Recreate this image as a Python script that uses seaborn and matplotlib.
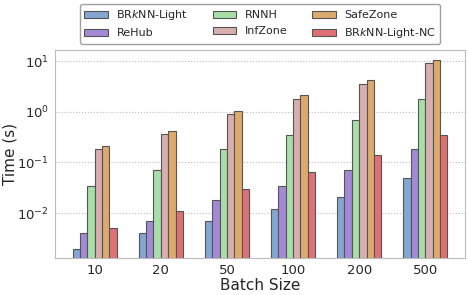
import matplotlib
matplotlib.use("Agg")
import matplotlib.pyplot as plt
import seaborn as sns
import pandas as pd

batch_sizes = ["10", "20", "50", "100", "200", "500"]
methods = ["BR$k$NN-Light", "ReHub", "RNNH", "InfZone", "SafeZone", "BR$k$NN-Light-NC"]

brknn_light = [0.002, 0.004, 0.007, 0.012, 0.021, 0.05]
rehub = [0.004, 0.007, 0.018, 0.035, 0.07, 0.18]
rnnh = [0.035, 0.07, 0.18, 0.35, 0.7, 1.8]
infzone = [0.18, 0.36, 0.9, 1.8, 3.6, 9.0]
safezone = [0.21, 0.42, 1.05, 2.1, 4.2, 10.5]
brknn_light_nc = [0.005, 0.011, 0.03, 0.065, 0.14, 0.35]

colors = ["#84a6d2", "#a48ad6", "#a8dea8", "#d8aeae", "#dcaa6c", "#e07076"]

series = [brknn_light, rehub, rnnh, infzone, safezone, brknn_light_nc]
rows = []
for m, vals in zip(methods, series):
    for b, v in zip(batch_sizes, vals):
        rows.append({"Batch Size": b, "Method": m, "Time": v})
df = pd.DataFrame(rows)

sns.set_style("white")
plt.rcParams["font.family"] = ["DejaVu Sans"]

fig = plt.figure(figsize=(4.68, 2.95), dpi=100)
ax = fig.add_axes([0.1175, 0.1254, 0.876, 0.705])
ax.set_yscale("log")

sns.barplot(data=df, x="Batch Size", y="Time", hue="Method", hue_order=methods,
            order=batch_sizes, palette=colors, width=0.67, ax=ax,
            edgecolor="#555555", linewidth=0.8, errorbar=None, saturation=1)

ax.set_ylim(0.0013, 16.5)
ax.set_xlim(-0.6, 5.6)
ax.yaxis.grid(True, which="major", linestyle=":", color="#bbbbbb", linewidth=0.8)
ax.set_axisbelow(True)
ax.tick_params(axis="x", labelsize=9.5, length=0, pad=4)
ax.tick_params(axis="y", which="major", labelsize=9.5, length=2.5, color="#999999", pad=2)
ax.tick_params(axis="y", which="minor", length=1.5, color="#aaaaaa")
for s in ax.spines.values():
    s.set_color("#bbbbbb")
ax.set_xlabel("Batch Size", fontsize=11, labelpad=1)
ax.set_ylabel("Time (s)", fontsize=11)
ax.yaxis.set_label_coords(-0.092, 0.5)

handles, labels = ax.get_legend_handles_labels()
ax.legend(handles, labels, loc="upper center", bbox_to_anchor=(0.556, 1.005),
          bbox_transform=fig.transFigure, ncol=3,
          fontsize=8, frameon=True, edgecolor="#888888", fancybox=True,
          handlelength=2.1, handleheight=0.6, handletextpad=0.8,
          columnspacing=2.2, borderpad=0.35, labelspacing=0.55)

fig.savefig("out.png", dpi=100)
